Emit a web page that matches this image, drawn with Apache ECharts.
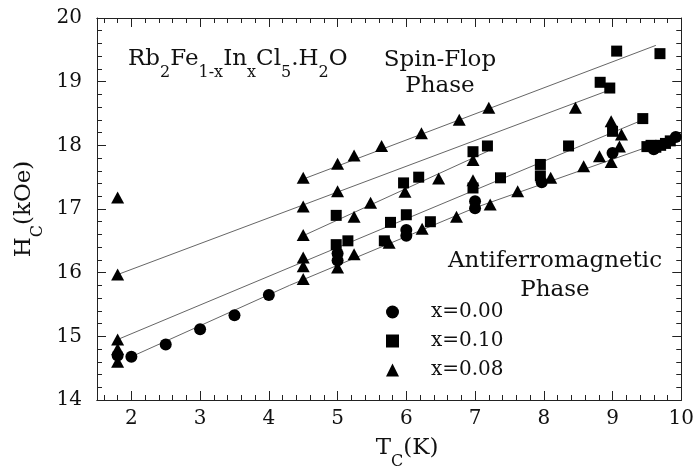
<!DOCTYPE html>
<html>
<head>
<meta charset="utf-8">
<script src="https://cdn.jsdelivr.net/npm/echarts@6/dist/echarts.min.js"></script>
<style>
html,body{margin:0;padding:0;background:#fff;}
#chart{width:697px;height:475px;}
</style>
</head>
<body>
<div id="chart"></div>
<script>
// ---- data ----
const xTickValues = [2, 3, 4, 5, 6, 7, 8, 9, 10];
const yRange = [14, 20];

const seriesNames = ['x=0.00', 'x=0.10', 'x=0.08'];

const x000 = [
  [1.8,14.70],[2.0,14.68],[2.5,14.87],[3.0,15.11],[3.5,15.33],[4.0,15.65],
  [5.0,16.30],[5.0,16.19],[6.0,16.67],[6.0,16.58],[7.0,17.12],[7.0,17.01],
  [7.97,17.42],[9.0,17.88],[9.6,17.94],[9.92,18.13]
];
const x010 = [
  [4.98,16.90],[4.98,16.44],[5.15,16.50],[5.68,16.50],[5.77,16.79],[6.0,16.91],
  [5.96,17.41],[6.18,17.50],[6.35,16.80],[6.97,17.90],[6.97,17.33],[7.18,17.99],
  [7.37,17.49],[7.95,17.70],[7.95,17.52],[8.36,17.99],[8.82,18.99],[8.96,18.90],
  [9.06,19.48],[9.69,19.44],[9.0,18.22],[9.44,18.42],[9.5,17.98],[9.56,18.0],
  [9.63,17.97],[9.7,18.0],[9.77,18.03],[9.84,18.07]
];
const x008 = [
  [1.8,17.18],[1.8,15.97],[1.8,14.95],[1.8,14.80],[1.8,14.60],
  [4.5,17.49],[4.5,17.04],[4.5,16.59],[4.5,16.24],[4.5,16.10],[4.5,15.90],
  [5.0,17.71],[5.0,17.28],[5.0,16.08],
  [5.24,17.84],[5.24,16.88],[5.24,16.29],
  [5.48,17.10],[5.64,17.99],[5.75,16.47],[5.98,17.27],
  [6.22,18.19],[6.23,16.69],[6.47,17.48],[6.73,16.88],[6.77,18.40],
  [6.97,17.77],[6.97,17.45],[7.2,18.59],[7.22,17.07],[7.62,17.28],[8.1,17.49],
  [8.46,18.59],[8.58,17.67],[8.81,17.83],[8.98,18.38],[8.98,17.74],[9.10,17.98],[9.13,18.17]
];

// fitted guide lines (end points)
const fitA = [[4.5,17.47],[9.63,19.57]];
const fitB = [[1.8,15.97],[8.91,18.85]];
const fitC = [[4.5,16.58],[7.19,17.91]];
const fitD = [[1.8,14.95],[9.44,18.40]];
const fitE = [[2.0,14.68],[4.3,15.80],[7.0,17.02],[9.92,18.13]];

// ---- chart ----
const F = 'DejaVu Serif';
const INK = '#111';
const minorX = [];
for (let i = 8; i < 50; i++) { if (i % 5) minorX.push(i / 5); }

const rich = {
  n: {fontFamily: F, fontSize: 23, fontWeight: 'normal', lineHeight: 24, verticalAlign: 'top', color: INK, fill: INK},
  s: {fontFamily: F, fontSize: 16, fontWeight: 'normal', lineHeight: 16, verticalAlign: 'top', padding: [17, 0, 0, 0], color: INK, fill: INK}
};

function xAxisDef(pos, vals, len, labels) {
  return {
    type: 'value', gridIndex: 0, position: pos, min: 1.5, max: 10,
    axisLine: {show: true, onZero: false, lineStyle: {color: '#222', width: 1}},
    axisTick: {show: true, inside: true, length: len, customValues: vals, lineStyle: {color: '#222', width: 1}},
    axisLabel: labels ? {show: true, customValues: vals, fontFamily: F, fontSize: 20, color: INK, margin: 9} : {show: false},
    splitLine: {show: false}
  };
}
function yAxisDef(pos, labels) {
  return {
    type: 'value', gridIndex: 0, position: pos, min: yRange[0], max: yRange[1], interval: 1,
    axisLine: {show: true, onZero: false, lineStyle: {color: '#222', width: 1}},
    axisTick: {show: true, inside: true, length: 9, lineStyle: {color: '#222', width: 1}},
    minorTick: {show: true, splitNumber: 5, length: 5, lineStyle: {color: '#222', width: 1}},
    axisLabel: labels ? {show: true, fontFamily: F, fontSize: 20, color: INK, margin: 15} : {show: false},
    splitLine: {show: false}
  };
}

const xMain = xAxisDef('bottom', xTickValues, 9, true);
xMain.name = '{n|T}{s|C}{n|(K)}';
xMain.nameLocation = 'middle';
xMain.nameGap = 37;
xMain.nameTextStyle = {rich: rich, padding: [0, 0, 0, 36]};

const yMain = yAxisDef('left', true);
yMain.name = '{n|H}{s|C}{n|(kOe)}';
yMain.nameLocation = 'middle';
yMain.nameGap = 43;
yMain.nameRotate = 90;
yMain.nameTextStyle = {rich: rich};

const lineSeries = [fitA, fitB, fitC, fitD, fitE].map(d => ({
  type: 'line', data: d, showSymbol: false, symbol: 'none', silent: true, z: 1,
  lineStyle: {color: '#666', width: 1}, xAxisIndex: 0, yAxisIndex: 0
}));

const option = {
  animation: false,
  backgroundColor: '#fff',
  grid: {left: 97, right: 12, top: 18, bottom: 74, containLabel: false},
  xAxis: [
    xMain,
    xAxisDef('bottom', minorX, 5, false),
    xAxisDef('top', xTickValues, 9, false),
    xAxisDef('top', minorX, 5, false)
  ],
  yAxis: [yMain, yAxisDef('right', false)],
  title: [{
    text: '{n|Rb}{s|2}{n|Fe}{s|1-x}{n|In}{s|x}{n|Cl}{s|5}{n|.H}{s|2}{n|O}',
    left: 128, top: 48, padding: 0,
    textStyle: {fontWeight: 'normal', rich: rich}
  }],
  graphic: [
    {type: 'text', x: 440, y: 47, silent: true,
     style: {text: 'Spin-Flop\nPhase', font: '23px "DejaVu Serif"', fill: INK, align: 'center', verticalAlign: 'top', lineHeight: 26}},
    {type: 'text', x: 555, y: 247, silent: true,
     style: {text: 'Antiferromagnetic\nPhase', font: '23px "DejaVu Serif"', fill: INK, align: 'center', verticalAlign: 'top', lineHeight: 29}}
  ],
  legend: {
    orient: 'vertical', left: 381, top: 297, itemWidth: 13, itemHeight: 13, itemGap: 9,
    data: [{name: seriesNames[0], icon: 'circle'}, {name: seriesNames[1], icon: 'rect'}, {name: seriesNames[2], icon: 'triangle'}],
    textStyle: {fontFamily: F, fontSize: 20, color: INK, padding: [0, 0, 0, 27]},
    selectedMode: false
  },
  series: [
    ...lineSeries,
    {type: 'scatter', name: seriesNames[0], data: x000, symbol: 'circle', symbolSize: 12, itemStyle: {color: '#000', opacity: 1}, z: 3},
    {type: 'scatter', name: seriesNames[1], data: x010, symbol: 'rect', symbolSize: 11, itemStyle: {color: '#000', opacity: 1}, z: 3},
    {type: 'scatter', name: seriesNames[2], data: x008, symbol: 'triangle', symbolSize: [13, 12], itemStyle: {color: '#000', opacity: 1}, z: 3}
  ]
};

const chart = echarts.init(document.getElementById('chart'), null, {renderer: 'canvas'});
chart.setOption(option);
</script>
</body>
</html>
